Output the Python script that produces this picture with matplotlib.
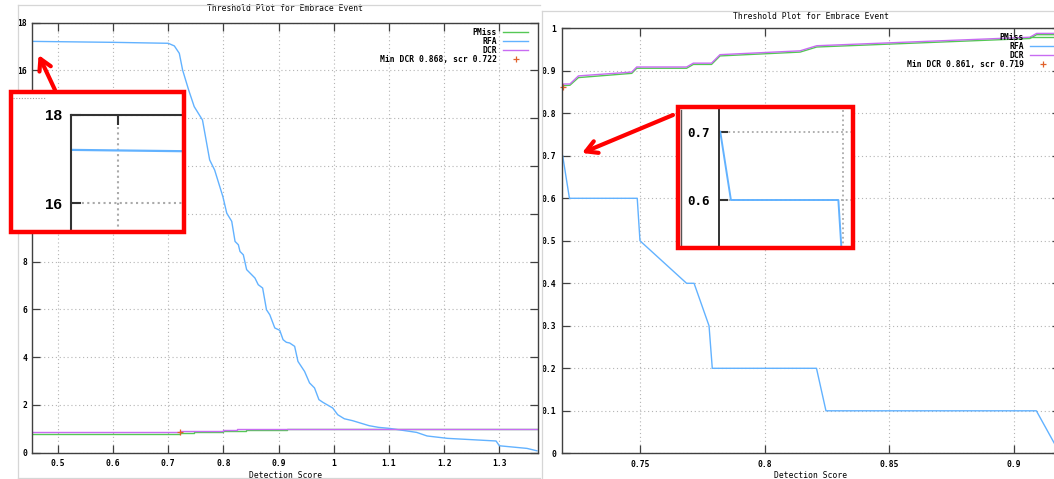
import matplotlib
matplotlib.use("Agg")
import matplotlib.pyplot as plt
from matplotlib.lines import Line2D
from matplotlib.patches import Rectangle, FancyArrowPatch
from matplotlib.ticker import FuncFormatter

# ---------------- data ----------------
title = "Threshold Plot for Embrace Event"
xlabel = "Detection Score"
series_names = ["PMiss", "RFA", "DCR"]

# left plot
left_rfa_x = [0.453, 0.600, 0.700, 0.711, 0.720, 0.726, 0.737, 0.747, 0.762, 0.775,
              0.784, 0.799, 0.806, 0.815, 0.821, 0.827, 0.830, 0.836, 0.842, 0.857,
              0.863, 0.871, 0.878, 0.884, 0.893, 0.902, 0.908, 0.914, 0.920, 0.929,
              0.935, 0.947, 0.956, 0.965, 0.973, 0.980, 0.998, 1.007, 1.019, 1.034,
              1.064, 1.081, 1.100, 1.150, 1.169, 1.206, 1.294, 1.300, 1.350, 1.368]
left_rfa_y = [17.21, 17.17, 17.13, 17.02, 16.71, 16.01, 15.17, 14.48, 13.92, 12.25,
              11.83, 10.71, 10.02, 9.68, 8.84, 8.70, 8.42, 8.28, 7.66, 7.31,
              7.03, 6.89, 5.98, 5.77, 5.22, 5.12, 4.73, 4.62, 4.59, 4.45,
              3.82, 3.40, 2.92, 2.71, 2.22, 2.11, 1.87, 1.59, 1.42, 1.34,
              1.13, 1.06, 1.02, 0.85, 0.70, 0.60, 0.49, 0.29, 0.18, 0.08]
left_pmiss_x = [0.453, 0.722, 0.722, 0.747, 0.747, 0.778, 0.778, 0.800, 0.800, 0.841,
                0.841, 0.916, 0.916, 0.956, 0.956, 1.368]
left_pmiss_y = [0.78, 0.78, 0.81, 0.81, 0.85, 0.85, 0.88, 0.88, 0.92, 0.92,
                0.95, 0.95, 0.98, 0.98, 1.00, 1.00]
left_dcr_x = [0.453, 0.722, 0.722, 0.778, 0.778, 0.800, 0.800, 0.825, 0.825, 0.916,
              0.916, 1.368]
left_dcr_y = [0.868, 0.868, 0.89, 0.89, 0.92, 0.92, 0.95, 0.95, 0.975, 0.975,
              1.00, 1.00]
left_min = (0.722, 0.868)
left_min_label = "Min DCR 0.868, scr 0.722"

# right plot
right_rfa_x = [0.7190, 0.7217, 0.7489, 0.7500, 0.7687, 0.7717, 0.7777, 0.7790,
               0.8208, 0.8246, 0.9090, 0.9155, 0.9180]
right_rfa_y = [0.70, 0.60, 0.60, 0.50, 0.40, 0.40, 0.30, 0.20,
               0.20, 0.10, 0.10, 0.031, 0.005]
right_dcr_x = [0.7190, 0.7193, 0.7219, 0.7253, 0.7467, 0.7487, 0.7687, 0.7714,
               0.7787, 0.7821, 0.8142, 0.8209, 0.9064, 0.9091, 0.9200]
right_dcr_y = [0.861, 0.869, 0.869, 0.888, 0.897, 0.909, 0.909, 0.918,
               0.918, 0.938, 0.947, 0.959, 0.979, 0.988, 0.988]
right_pmiss_y = [0.858, 0.865, 0.866, 0.884, 0.894, 0.906, 0.906, 0.915,
                 0.915, 0.935, 0.944, 0.956, 0.976, 0.985, 0.985]
right_min = (0.719, 0.861)
right_min_label = "Min DCR 0.861, scr 0.719"

left_xticks = [0.5, 0.6, 0.7, 0.8, 0.9, 1.0, 1.1, 1.2, 1.3]
left_yticks = [0, 2, 4, 6, 8, 10, 12, 14, 16, 18]
right_xticks = [0.75, 0.8, 0.85, 0.9]
right_yticks = [0, 0.1, 0.2, 0.3, 0.4, 0.5, 0.6, 0.7, 0.8, 0.9, 1.0]
left_inset_yticks = [16, 18]
left_inset_xticks = [0.5]
right_inset_yticks = [0.6, 0.7]
right_inset_xticks = [0.75]

# ---------------- style ----------------
COL = {"PMiss": "#55c855", "RFA": "#62b2ff", "DCR": "#c86cf2"}
MARK = "#e0602a"
MONO = "DejaVu Sans Mono"
FS = 5.8
SPINE = "#404040"
GRID = "#b4b4b4"

W, H = 1054, 479
plt.rcParams["font.family"] = [MONO]
plt.rcParams["font.weight"] = "bold"

fig = plt.figure(figsize=(W / 100, H / 100), dpi=100)
fig.patch.set_facecolor("white")


def fx(x):
    return x / W


def fy(y):
    return 1 - y / H


def frac_rect(x0, y0, x1, y1):
    return [x0 / W, 1 - y1 / H, (x1 - x0) / W, (y1 - y0) / H]


fmt = FuncFormatter(lambda v, p: f"{v:g}")


def style_main(ax, xticks, yticks, xlim, ylim, xpad, ypad):
    ax.set_xlim(xlim)
    ax.set_ylim(ylim)
    ax.set_xticks(xticks)
    ax.set_yticks(yticks)
    ax.xaxis.set_major_formatter(fmt)
    ax.yaxis.set_major_formatter(fmt)
    ax.tick_params(direction="in", length=5.5, width=0.9, color=SPINE,
                   top=True, right=True, labelsize=FS)
    ax.tick_params(axis="x", pad=xpad)
    ax.tick_params(axis="y", pad=ypad)
    ax.grid(True, color=GRID, linestyle=(0, (1, 2.5)), linewidth=0.8)
    ax.set_axisbelow(True)
    for s in ax.spines.values():
        s.set_color(SPINE)
        s.set_linewidth(1.0)


def add_legend(ax, xr, yt, min_label):
    handles = [Line2D([], [], color=COL[n], lw=1.0) for n in series_names]
    handles.append(Line2D([], [], color=MARK, marker="+", ls="none", ms=4.5, mew=0.9))
    labels = series_names + [min_label]
    ax.legend(handles, labels, loc="upper right",
              bbox_to_anchor=(fx(xr), fy(yt)), bbox_transform=fig.transFigure,
              frameon=False, markerfirst=False, handlelength=3.1,
              handletextpad=0.75, labelspacing=0.0, borderpad=0,
              borderaxespad=0, prop={"family": MONO, "weight": "bold", "size": FS})


# ---------------- outer frames ----------------
FRAME = "#d6d6d6"
for (xa, ya, xb, yb) in [(17.6, 5, 540, 5), (17.6, 5, 17.6, 478.3), (17.6, 478.3, 540, 478.3),
                         (542, 10.5, 542, 479), (542, 10.5, 1054, 10.5)]:
    fig.add_artist(Line2D([fx(xa), fx(xb)], [fy(ya), fy(yb)], color=FRAME, lw=0.9,
                          transform=fig.transFigure))

# ---------------- left plot ----------------
axL = fig.add_axes(frac_rect(32.3, 22.5, 538, 452.7))
style_main(axL, left_xticks, left_yticks, (0.4536, 1.370), (0, 18), xpad=4.3, ypad=3.8)
axL.plot(left_pmiss_x, left_pmiss_y, color=COL["PMiss"], lw=1.0)
axL.plot(left_rfa_x, left_rfa_y, color=COL["RFA"], lw=1.0)
axL.plot(left_dcr_x, left_dcr_y, color=COL["DCR"], lw=1.0)
axL.plot([left_min[0]], [left_min[1]], color=MARK, marker="+", ls="none", ms=4.5, mew=0.9)
axL.set_title(title, fontsize=FS, y=1.0314, va="center", pad=0)
axL.set_xlabel(xlabel, fontsize=FS)
axL.xaxis.set_label_coords(0.5, -0.0535)
axL.xaxis.label.set_va("center")
add_legend(axL, 528, 28, left_min_label)

# ---------------- right plot ----------------
axR = fig.add_axes(frac_rect(561.7, 28.3, 1060, 453.3))
style_main(axR, right_xticks, right_yticks, (0.7186, 0.7186 + (1060 - 561.7) / 2493),
           (0, 1), xpad=4.8, ypad=4.1)
axR.plot(right_dcr_x, right_pmiss_y, color=COL["PMiss"], lw=1.0)
axR.plot(right_rfa_x, right_rfa_y, color=COL["RFA"], lw=1.0)
axR.plot(right_dcr_x, right_dcr_y, color=COL["DCR"], lw=1.0)
axR.plot([right_min[0]], [right_min[1]], color=MARK, marker="+", ls="none", ms=4.5,
         mew=0.9, clip_on=False)
axR.set_title(title, fontsize=FS, y=1.028, va="center", pad=0)
axR.set_xlabel(xlabel, fontsize=FS)
axR.xaxis.set_label_coords(0.5, -0.053)
axR.xaxis.label.set_va("center")
add_legend(axR, 1055, 33, right_min_label)

# ---------------- red callout boxes ----------------
RED = "#ff0000"
RLW = 3.2


def red_box(x0, y0, x1, y1):
    fig.add_artist(Rectangle((fx(x0), fy(y1)), fx(x1 - x0), (y1 - y0) / H,
                             transform=fig.transFigure, facecolor="white",
                             edgecolor="none", zorder=2))
    fig.add_artist(Rectangle((fx(x0), fy(y1)), fx(x1 - x0), (y1 - y0) / H,
                             transform=fig.transFigure, facecolor="none",
                             edgecolor=RED, lw=RLW, zorder=4))


red_box(10.5, 92.3, 183.8, 231.7)
red_box(677.5, 107.5, 852.5, 248.5)

# small dotted artifact in left box
fig.add_artist(Line2D([fx(13), fx(45)], [fy(98), fy(98)], color="#a0a0a0", lw=0.8,
                      linestyle=(0, (1, 1.5)), transform=fig.transFigure, zorder=3))
# vertical gray line in right box
fig.add_artist(Line2D([fx(681), fx(681)], [fy(110), fy(246)], color="#555555", lw=1.0,
                      transform=fig.transFigure, zorder=3))

# left inset (zoomed view)
axLi = fig.add_axes(frac_rect(71, 115, 183.8, 231.7))
axLi.set_zorder(3)
axLi.set_facecolor("white")
axLi.set_xlim(0.4536, 0.4536 + (183.8 - 71) / 1019)
axLi.set_ylim(18 - (231.7 - 115) / 44.15, 18)
axLi.plot(left_rfa_x, left_rfa_y, color=COL["RFA"], lw=1.6)
axLi.set_xticks(left_inset_xticks)
axLi.set_yticks(left_inset_yticks)
axLi.yaxis.set_major_formatter(fmt)
axLi.tick_params(axis="y", direction="in", length=7.2, width=1.5, color="#333333",
                 labelsize=11, pad=6.7, right=False)
axLi.tick_params(axis="x", direction="in", length=7.2, width=1.5, color="#333333",
                 top=True, bottom=False, labelbottom=False, labeltop=False)
for lab in axLi.get_yticklabels():
    lab.set_fontfamily("Liberation Sans")
    lab.set_fontweight("bold")
axLi.grid(True, color="#aaaaaa", linestyle=(0, (1, 1.6)), linewidth=1.5)
axLi.set_axisbelow(True)
for k, s in axLi.spines.items():
    s.set_visible(k in ("left", "top"))
    s.set_color("#333333")
    s.set_linewidth(1.5)

# right inset (zoomed view)
axRi = fig.add_axes(frac_rect(719, 107.5, 852.5, 248.5))
axRi.set_zorder(3)
axRi.set_facecolor("white")
axRi.set_xlim(0.75 - (842.7 - 719) / 3950, 0.75 + (852.5 - 842.7) / 3950)
axRi.set_ylim(0.6 - (248.5 - 200) / 683, 0.7 + (131.7 - 107.5) / 683)
axRi.plot(right_rfa_x, right_rfa_y, color=COL["RFA"], lw=1.4)
axRi.set_xticks(right_inset_xticks)
axRi.set_yticks(right_inset_yticks)
axRi.yaxis.set_major_formatter(fmt)
axRi.tick_params(axis="y", direction="in", length=6.5, width=1.5, color="#333333",
                 labelsize=9, pad=6.5, right=False)
axRi.tick_params(axis="x", length=0, labelbottom=False)
for lab in axRi.get_yticklabels():
    lab.set_fontfamily(MONO)
    lab.set_fontweight("bold")
axRi.grid(True, color="#aaaaaa", linestyle=(0, (1, 1.6)), linewidth=1.3)
axRi.set_axisbelow(True)
for k, s in axRi.spines.items():
    s.set_visible(k == "left")
    s.set_color("#333333")
    s.set_linewidth(1.4)

# arrows
for (xa, ya, xb, yb) in [(55, 90, 38.6, 55), (673, 115, 582, 153)]:
    fig.add_artist(FancyArrowPatch((fx(xa), fy(ya)), (fx(xb), fy(yb)),
                                   transform=fig.transFigure,
                                   arrowstyle="->,head_length=8,head_width=4.5",
                                   mutation_scale=1, color=RED, lw=3.0,
                                   shrinkA=0, shrinkB=0, zorder=5))

fig.savefig("out.png", dpi=100)
